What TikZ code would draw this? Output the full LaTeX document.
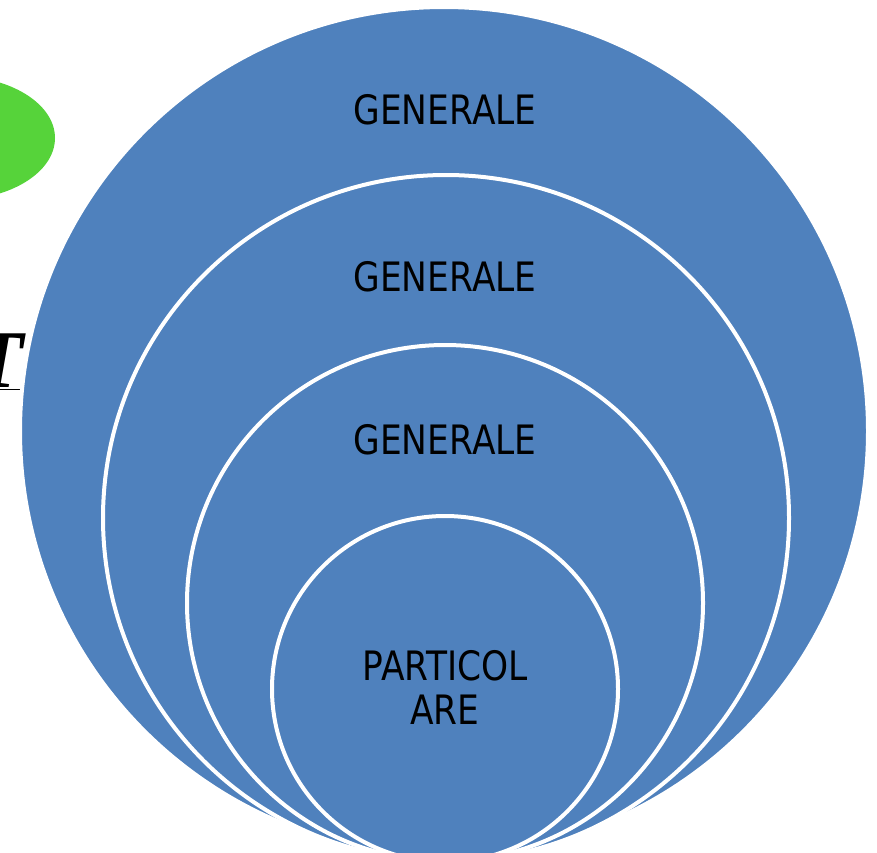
\documentclass[tikz,border=0pt]{standalone}
\usepackage{fontspec}
\setmainfont{DejaVu Sans}[FakeStretch=0.85]
\newfontfamily\serifcut{Liberation Serif}
\definecolor{ringblue}{RGB}{79,129,189}
\definecolor{leafgreen}{RGB}{86,211,58}
\tikzset{
  ring/.style={circle,fill=ringblue,draw=white,line width=4pt,inner sep=0pt},
  ringlabel/.style={text=black,font=\fontsize{40.5}{44}\selectfont,align=center}
}
\begin{document}
\begin{tikzpicture}[x=1pt,y=-1pt]
  \useasboundingbox (0,0) rectangle (877,852);
  \clip (0,0) rectangle (877,852);
  % green blob and cut-off letter at the left edge
  \fill[leafgreen] (-45,138) ellipse (100 and 62);
  \node[anchor=east,inner sep=0pt,font=\serifcut\bfseries\itshape\fontsize{82}{86}\selectfont]
    (cutletter) at (24,362) {\underline{T}};
  % nested circles, all touching at the bottom
  \node[ring,minimum size=848] (outer) at (444,431) {};
  \node[ring,minimum size=686] (ringa) at (446,518) {};
  \node[ring,minimum size=516] (ringb) at (445,603) {};
  \node[ring,minimum size=346] (core) at (445,689) {};
  % labels
  \node[ringlabel] (laba) at (445,110) {GENERALE};
  \node[ringlabel] (labb) at (445,277) {GENERALE};
  \node[ringlabel] (labc) at (445,440) {GENERALE};
  \node[ringlabel] (labd) at (445,687) {PARTICOL\\ARE};
\end{tikzpicture}
\end{document}
